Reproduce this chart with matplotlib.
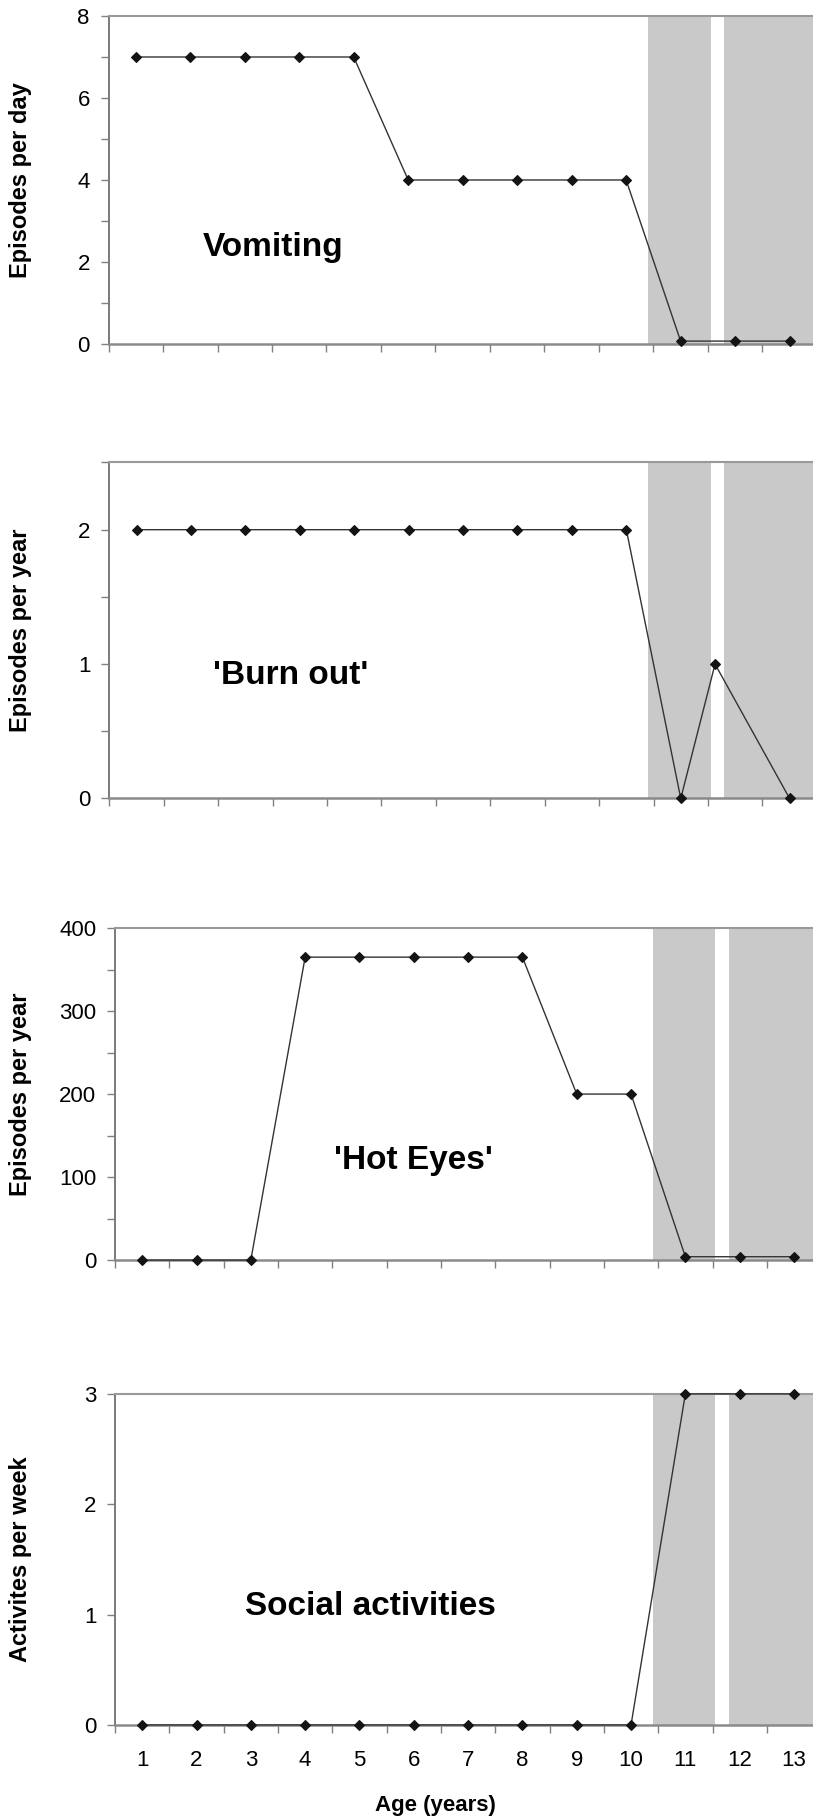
import matplotlib
matplotlib.use("Agg")
import matplotlib.pyplot as plt
from matplotlib.ticker import MultipleLocator, FixedLocator, NullFormatter

# ---------------- data ----------------
ages = [1, 2, 3, 4, 5, 6, 7, 8, 9, 10, 11, 12, 13]
vomiting = [7, 7, 7, 7, 7, 4, 4, 4, 4, 4, 0.07, 0.07, 0.07]
burnout_x = [1, 2, 3, 4, 5, 6, 7, 8, 9, 10, 11, 11.63, 13]
burnout = [2, 2, 2, 2, 2, 2, 2, 2, 2, 2, 0, 1, 0]
hot_eyes = [0, 0, 0, 365, 365, 365, 365, 365, 200, 200, 4, 4, 4]
social = [0, 0, 0, 0, 0, 0, 0, 0, 0, 0, 3, 3, 3]

shade_spans = [(10.4, 11.55), (11.8, 14.0)]
x_tick_labels = [str(a) for a in ages]

panels = [
    dict(x=ages, y=vomiting, ylabel="Episodes per day", title="Vomiting",
         ylim=(0, 8), major=2, minor=1, tpos=(3.52, 2.15), xmax=13.43),
    dict(x=burnout_x, y=burnout, ylabel="Episodes per year", title="'Burn out'",
         ylim=(0, 2.5), major=1, minor=0.5, tpos=(3.83, 0.85), xmax=13.43),
    dict(x=ages, y=hot_eyes, ylabel="Episodes per year", title="'Hot Eyes'",
         ylim=(0, 400), major=100, minor=50, tpos=(6.0, 110), xmax=13.35),
    dict(x=ages, y=social, ylabel="Activites per week", title="Social activities",
         ylim=(0, 3), major=1, minor=None, tpos=(5.2, 1.0), xmax=13.35),
]

# axes positions [left, bottom, width, height] in figure fractions
positions = [
    (0.1335, 0.8108, 0.8665, 0.1804),
    (0.1345, 0.5608, 0.8655, 0.1848),
    (0.1415, 0.3069, 0.8585, 0.1826),
    (0.1415, 0.0512, 0.8585, 0.1821),
]

FONT = ["Liberation Sans", "DejaVu Sans"]
plt.rcParams["font.family"] = FONT

fig = plt.figure(figsize=(8.13, 18.18), dpi=100)

for i, (p, pos) in enumerate(zip(panels, positions)):
    ax = fig.add_axes(pos)
    for a, b in shade_spans:
        ax.axvspan(a, b, color="#c9c9c9", lw=0, zorder=0)
    ax.plot(p["x"], p["y"], color="#333333", lw=1.0, marker="D",
            markersize=5.2, markerfacecolor="#141414",
            markeredgecolor="#141414", markeredgewidth=0.8,
            zorder=3, clip_on=False)
    ax.set_xlim(0.5, p["xmax"])
    ax.set_ylim(*p["ylim"])

    # spines
    ax.spines["right"].set_visible(False)
    ax.spines["left"].set_color("#7a7a7a")
    ax.spines["left"].set_linewidth(1.4)
    ax.spines["bottom"].set_color("#8a8a8a")
    ax.spines["bottom"].set_linewidth(1.8)
    ax.spines["top"].set_color("#9a9a9a")
    ax.spines["top"].set_linewidth(1.5)
    for s in ax.spines.values():
        s.set_zorder(2)

    # x ticks at category boundaries
    ax.xaxis.set_major_locator(FixedLocator([a + 0.5 for a in [0] + ages]))
    ax.xaxis.set_major_formatter(NullFormatter())
    ax.tick_params(axis="x", which="major", length=5.5, width=1.0,
                   color="#808080", direction="out")
    if i == 3:
        ax.set_xticks(ages, labels=x_tick_labels, minor=True)
        ax.tick_params(axis="x", which="minor", length=0, pad=18,
                       labelsize=16)

    # y ticks
    ax.yaxis.set_major_locator(MultipleLocator(p["major"]))
    if p["minor"] is not None:
        ax.yaxis.set_minor_locator(MultipleLocator(p["minor"]))
    ax.tick_params(axis="y", which="both", length=6, width=1.0,
                   color="#808080", direction="out", labelsize=16, pad=7.5)

    # y-axis title
    y_center = pos[1] + pos[3] / 2
    fig.text(21 / 813, y_center, p["ylabel"], rotation=90,
             ha="center", va="center", fontsize=17, fontweight="bold")
    # panel annotation
    ax.text(p["tpos"][0], p["tpos"][1], p["title"], ha="center",
            va="baseline", fontsize=24, fontweight="bold")

fig.text(435 / 813, 7 / 1818, "Age (years)", ha="center", va="baseline",
         fontsize=16, fontweight="bold")

fig.savefig("out.png", dpi=100)
